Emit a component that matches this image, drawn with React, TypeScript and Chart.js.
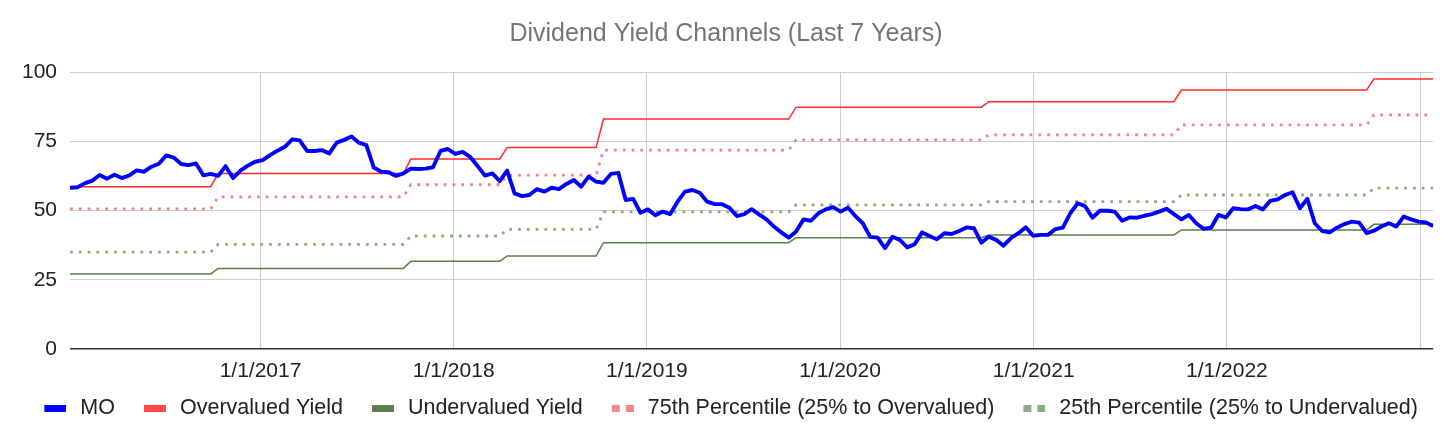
import { useEffect, useRef } from 'react';
import { Chart, registerables } from 'chart.js';

Chart.register(...registerables);

// ---- data ----
const startDate = '2016-01-07'; // first biweekly sample
const stepDays = 14;

const moYield = [
  58.2, 58.4, 59.8, 60.8, 62.8, 61.5, 62.9, 61.7, 62.7, 64.5,
  64.0, 65.8, 66.9, 69.9, 69.1, 66.8, 66.4, 67.0, 62.7, 63.2,
  62.5, 66.0, 61.7, 64.4, 66.2, 67.6, 68.2, 70.0, 71.6, 73.0,
  75.7, 75.3, 71.5, 71.5, 71.8, 70.6, 74.5, 75.5, 76.7, 74.5,
  73.6, 65.5, 64.0, 63.8, 62.5, 63.4, 65.1, 65.0, 65.1, 65.6,
  71.5, 72.2, 70.4, 71.2, 69.4, 66.1, 62.6, 63.4, 60.6, 64.4,
  56.2, 55.2, 55.6, 57.7, 56.8, 58.2, 57.7, 59.6, 61.0, 58.6,
  62.2, 60.4, 60.0, 63.2, 63.6, 53.8, 54.2, 49.2, 50.4, 48.3,
  49.6, 48.7, 53.2, 56.8, 57.4, 56.4, 53.2, 52.3, 52.3, 51.0,
  48.0, 48.7, 50.5, 48.6, 46.8, 44.2, 42.1, 40.2, 42.4, 46.8,
  46.3, 49.0, 50.4, 51.2, 49.6, 51.0, 48.0, 45.4, 40.5, 40.2,
  36.4, 40.5, 39.4, 36.7, 37.8, 42.1, 40.8, 39.6, 41.8, 41.5,
  42.6, 43.9, 43.6, 38.4, 40.5, 39.4, 37.3, 40.0, 41.8, 43.9,
  40.9, 41.2, 41.2, 43.3, 43.8, 49.0, 52.6, 51.6, 47.4, 49.9,
  49.9, 49.6, 46.3, 47.5, 47.4, 48.1, 48.7, 49.6, 50.6, 48.7,
  46.8, 48.4, 45.4, 43.4, 43.8, 48.4, 47.5, 50.8, 50.5, 50.4,
  51.6, 50.4, 53.5, 54.0, 55.6, 56.6, 50.8, 54.2, 45.4, 42.6,
  42.1, 43.8, 45.1, 46.0, 45.6, 41.8, 42.7, 44.2, 45.4, 44.2,
  47.8, 46.8, 46.0, 45.7, 44.4,
];

// sample index at which each channel level begins
const levelStartIndex = [0, 20, 46, 59, 72, 98, 124, 150, 176];
const overvaluedLevels = [58.6, 63.4, 68.6, 72.7, 83.0, 87.3, 89.3, 93.5, 97.5];
const undervaluedLevels = [27.1, 29.1, 31.7, 33.6, 38.4, 40.2, 41.2, 43.0, 45.0];
const p75Levels = [50.6, 54.9, 59.3, 62.8, 71.8, 75.5, 77.3, 80.9, 84.5];
const p25Levels = [35.0, 37.8, 40.8, 43.2, 49.5, 52.0, 53.2, 55.6, 58.1];

const tickYears = [2017, 2018, 2019, 2020, 2021, 2022, 2023];
const labeledYears = [2017, 2018, 2019, 2020, 2021, 2022];
const yTicks = [0, 25, 50, 75, 100];

const seriesLabels = [
  'MO',
  'Overvalued Yield',
  'Undervalued Yield',
  '75th Percentile (25% to Overvalued)',
  '25th Percentile (25% to Undervalued)',
];
const seriesColors = ['#0000ff', '#ff2a2a', '#5b7f4b', '#f28383', '#8fa987'];
const legendColors = ['#0000ff', '#ff4a4a', '#5f7f50', '#f48888', '#8fa987'];

const FONT = "'Liberation Sans', Arial, Helvetica, sans-serif";
const DAY = 86400000;

// legend marker: transparent lead-in, then a 22x7 swatch (solid or two squares)
function makeMarker(color: string, dotted: boolean): HTMLCanvasElement {
  const lead = 7;
  const c = document.createElement('canvas');
  c.width = lead + 22;
  c.height = 7;
  const g = c.getContext('2d')!;
  g.fillStyle = color;
  if (dotted) {
    g.fillRect(lead, 0, 8, 7);
    g.fillRect(lead + 14, 0, 8, 7);
  } else {
    g.fillRect(lead, 0, 22, 7);
  }
  return c;
}

export default function App() {
  const ref = useRef<HTMLCanvasElement | null>(null);

  useEffect(() => {
    if (!ref.current) return;
    Chart.defaults.font.family = FONT;

    const [sy, sm, sd] = startDate.split('-').map(Number);
    const t0 = Date.UTC(sy, sm - 1, sd);
    const dates = moYield.map((_, i) => t0 + i * stepDays * DAY);

    const levelAt = (levels: number[], i: number) => {
      let k = 0;
      for (let j = 0; j < levelStartIndex.length; j++) if (i >= levelStartIndex[j]) k = j;
      return levels[k];
    };
    const stepSeries = (levels: number[]) => dates.map((x, i) => ({ x, y: levelAt(levels, i) }));

    const markers = [
      makeMarker(legendColors[0], false),
      makeMarker(legendColors[1], false),
      makeMarker(legendColors[2], false),
      makeMarker(legendColors[3], true),
      makeMarker(legendColors[4], true),
    ];

    const dotted = { borderWidth: 2.8, borderDash: [2.8, 6], borderCapStyle: 'butt' as const };

    const chart = new Chart(ref.current, {
      type: 'line',
      data: {
        datasets: [
          {
            label: seriesLabels[0],
            data: dates.map((x, i) => ({ x, y: moYield[i] })),
            borderColor: seriesColors[0],
            backgroundColor: seriesColors[0],
            borderWidth: 3.9,
            borderJoinStyle: 'round',
          },
          {
            label: seriesLabels[1],
            data: stepSeries(overvaluedLevels),
            borderColor: seriesColors[1],
            backgroundColor: seriesColors[1],
            borderWidth: 1.5,
          },
          {
            label: seriesLabels[2],
            data: stepSeries(undervaluedLevels),
            borderColor: seriesColors[2],
            backgroundColor: seriesColors[2],
            borderWidth: 1.5,
          },
          {
            label: seriesLabels[3],
            data: stepSeries(p75Levels),
            borderColor: seriesColors[3],
            backgroundColor: seriesColors[3],
            ...dotted,
          },
          {
            label: seriesLabels[4],
            data: stepSeries(p25Levels),
            borderColor: seriesColors[4],
            backgroundColor: seriesColors[4],
            ...dotted,
          },
        ],
      },
      options: {
        animation: false,
        responsive: false,
        layout: { padding: { left: 0, right: 4, top: 0, bottom: 9.75 } },
        elements: { point: { radius: 0, hoverRadius: 0 }, line: { tension: 0 } },
        plugins: {
          title: {
            display: true,
            text: 'Dividend Yield Channels (Last 7 Years)',
            color: '#757575',
            font: { size: 25, weight: 'normal', family: FONT },
            padding: { top: 19, bottom: 23 },
          },
          legend: {
            position: 'bottom',
            labels: {
              usePointStyle: true,
              pointStyleWidth: 35.5,
              padding: 18.75,
              color: '#222222',
              font: { size: 21.5, family: FONT },
              generateLabels: (c: any) =>
                c.data.datasets.map((ds: any, i: number) => ({
                  text: ds.label,
                  fillStyle: legendColors[i],
                  strokeStyle: legendColors[i],
                  lineWidth: 0,
                  pointStyle: markers[i],
                  hidden: false,
                  datasetIndex: i,
                  fontColor: '#222222',
                })),
            },
          },
          tooltip: { enabled: false },
        },
        scales: {
          x: {
            type: 'linear',
            min: dates[0],
            max: dates[dates.length - 1],
            afterBuildTicks: (s: any) => {
              s.ticks = tickYears.map((y) => ({ value: Date.UTC(y, 0, 1) }));
            },
            afterFit: (s: any) => {
              s.height = 30;
            },
            grid: { color: '#cccccc', lineWidth: 1, drawTicks: false },
            border: { display: false },
            ticks: {
              autoSkip: false,
              maxRotation: 0,
              minRotation: 0,
              padding: 9.5,
              color: '#222222',
              font: { size: 21, family: FONT },
              callback: (v: any) => {
                const y = new Date(Number(v)).getUTCFullYear();
                return labeledYears.includes(y) ? `1/1/${y}` : '';
              },
            },
          },
          y: {
            min: 0,
            max: 100,
            afterBuildTicks: (s: any) => {
              s.ticks = yTicks.map((v) => ({ value: v }));
            },
            afterFit: (s: any) => {
              s.width = 70;
            },
            grid: {
              drawTicks: false,
              color: (ctx: any) => (ctx.tick && ctx.tick.value === 0 ? '#333333' : '#cccccc'),
              lineWidth: (ctx: any) => (ctx.tick && ctx.tick.value === 0 ? 1.6 : 1),
            },
            border: { display: false },
            ticks: {
              padding: 13,
              color: '#222222',
              font: { size: 21, family: FONT },
            },
          },
          // empty right-hand box: keeps the plot's right edge where the reference has it
          yRight: {
            position: 'right',
            display: true,
            grid: { display: false, drawTicks: false },
            border: { display: false },
            ticks: { display: false },
            afterFit: (s: any) => {
              s.width = 18.7;
            },
          },
        },
      },
    });

    return () => chart.destroy();
  }, []);

  return (
    <div style={{ position: 'absolute', left: 0, top: 0, width: 1456, height: 439, background: '#fff' }}>
      <canvas ref={ref} width={1456} height={439} style={{ display: 'block', width: 1456, height: 439 }} />
    </div>
  );
}
